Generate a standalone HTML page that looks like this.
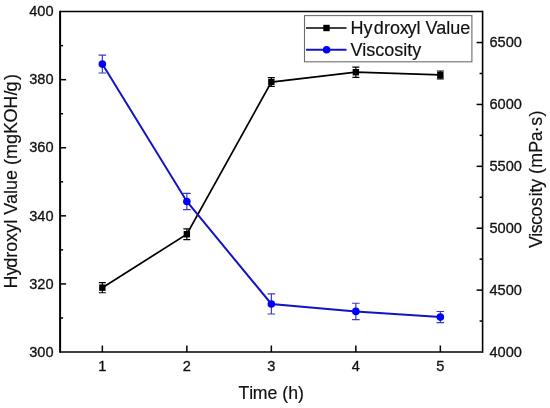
<!DOCTYPE html>
<html><head><meta charset="utf-8"><style>
html,body{margin:0;padding:0;background:#fff;}
svg{display:block;font-family:"Liberation Sans",sans-serif;}
text{fill:#111;stroke:#111;stroke-width:0.18px;}
.tk{stroke:#111;stroke-width:0.3px;}
</style></head><body>
<svg width="550" height="408" viewBox="0 0 550 408">
<defs><filter id="g" filterUnits="userSpaceOnUse" x="0" y="0" width="550" height="408"><feColorMatrix type="saturate" values="0"/></filter></defs>
<path d="M60.1,11.6H482.6" stroke="#000" stroke-width="1.5" fill="none"/>
<path d="M60.1,352.0H482.6" stroke="#000" stroke-width="1.6" fill="none"/>
<path d="M60.1,10.85V352.8" stroke="#000" stroke-width="2" fill="none"/>
<path d="M482.6,10.85V352.8" stroke="#000" stroke-width="1.6" fill="none"/>
<path d="M60.1,317.96h3" stroke="#000" stroke-width="1.5"/>
<path d="M60.1,283.92h6" stroke="#000" stroke-width="1.5"/>
<path d="M60.1,249.88h3" stroke="#000" stroke-width="1.5"/>
<path d="M60.1,215.84h6" stroke="#000" stroke-width="1.5"/>
<path d="M60.1,181.80h3" stroke="#000" stroke-width="1.5"/>
<path d="M60.1,147.76h6" stroke="#000" stroke-width="1.5"/>
<path d="M60.1,113.72h3" stroke="#000" stroke-width="1.5"/>
<path d="M60.1,79.68h6" stroke="#000" stroke-width="1.5"/>
<path d="M60.1,45.64h3" stroke="#000" stroke-width="1.5"/>
<path d="M482.6,321.05h-3" stroke="#000" stroke-width="1.5"/>
<path d="M482.6,290.11h-6" stroke="#000" stroke-width="1.5"/>
<path d="M482.6,259.16h-3" stroke="#000" stroke-width="1.5"/>
<path d="M482.6,228.22h-6" stroke="#000" stroke-width="1.5"/>
<path d="M482.6,197.27h-3" stroke="#000" stroke-width="1.5"/>
<path d="M482.6,166.33h-6" stroke="#000" stroke-width="1.5"/>
<path d="M482.6,135.38h-3" stroke="#000" stroke-width="1.5"/>
<path d="M482.6,104.44h-6" stroke="#000" stroke-width="1.5"/>
<path d="M482.6,73.49h-3" stroke="#000" stroke-width="1.5"/>
<path d="M482.6,42.55h-6" stroke="#000" stroke-width="1.5"/>
<path d="M102.35,352.0v-6.5" stroke="#000" stroke-width="1.5"/>
<path d="M186.85,352.0v-6.5" stroke="#000" stroke-width="1.5"/>
<path d="M271.35,352.0v-6.5" stroke="#000" stroke-width="1.5"/>
<path d="M355.85,352.0v-6.5" stroke="#000" stroke-width="1.5"/>
<path d="M440.35,352.0v-6.5" stroke="#000" stroke-width="1.5"/>
<polyline points="102.35,287.66 186.85,234.22 271.35,82.06 355.85,72.19 440.35,74.91" fill="none" stroke="#000" stroke-width="1.7"/>
<path d="M102.35,282.56V292.77M98.85,282.56h7M98.85,292.77h7" stroke="#000" stroke-width="1.2" fill="none"/>
<rect x="99.15" y="284.46" width="6.4" height="6.4" fill="#000"/>
<path d="M186.85,228.78V239.67M183.35,228.78h7M183.35,239.67h7" stroke="#000" stroke-width="1.2" fill="none"/>
<rect x="183.65" y="231.02" width="6.4" height="6.4" fill="#000"/>
<path d="M271.35,77.64V86.49M267.85,77.64h7M267.85,86.49h7" stroke="#000" stroke-width="1.2" fill="none"/>
<rect x="268.15" y="78.86" width="6.4" height="6.4" fill="#000"/>
<path d="M355.85,67.09V77.30M352.35,67.09h7M352.35,77.30h7" stroke="#000" stroke-width="1.2" fill="none"/>
<rect x="352.65" y="68.99" width="6.4" height="6.4" fill="#000"/>
<path d="M440.35,71.00V78.83M436.85,71.00h7M436.85,78.83h7" stroke="#000" stroke-width="1.2" fill="none"/>
<rect x="437.15" y="71.71" width="6.4" height="6.4" fill="#000"/>
<polyline points="102.35,64.08 186.85,201.48 271.35,303.97 355.85,311.40 440.35,317.09" fill="none" stroke="#1414c0" stroke-width="2"/>
<path d="M102.35,55.17V73.00M98.55,55.17h7.6M98.55,73.00h7.6" stroke="#3838d0" stroke-width="1.2" fill="none"/>
<circle cx="102.35" cy="64.08" r="3.8" fill="#0000ff"/>
<path d="M186.85,193.31V209.65M183.05,193.31h7.6M183.05,209.65h7.6" stroke="#3838d0" stroke-width="1.2" fill="none"/>
<circle cx="186.85" cy="201.48" r="3.8" fill="#0000ff"/>
<path d="M271.35,293.95V314.00M267.55,293.95h7.6M267.55,314.00h7.6" stroke="#3838d0" stroke-width="1.2" fill="none"/>
<circle cx="271.35" cy="303.97" r="3.8" fill="#0000ff"/>
<path d="M355.85,303.23V319.57M352.05,303.23h7.6M352.05,319.57h7.6" stroke="#3838d0" stroke-width="1.2" fill="none"/>
<circle cx="355.85" cy="311.40" r="3.8" fill="#0000ff"/>
<path d="M440.35,311.52V322.66M436.55,311.52h7.6M436.55,322.66h7.6" stroke="#3838d0" stroke-width="1.2" fill="none"/>
<circle cx="440.35" cy="317.09" r="3.8" fill="#0000ff"/>
<rect x="304.5" y="15.6" width="167.4" height="46.2" fill="#fff" stroke="#6c6c6c" stroke-width="1.1"/>
<path d="M306,28h40.5" stroke="#000" stroke-width="1.7"/>
<rect x="323.3" y="24.8" width="6.4" height="6.4" fill="#000"/>
<path d="M306,49.8h40.5" stroke="#1414c0" stroke-width="2"/>
<circle cx="326.6" cy="49.8" r="3.8" fill="#0000ff"/>
<g filter="url(#g)">
<text transform="translate(53.60,356.70) scale(1,1.06)" class="tk" text-anchor="end" font-size="14.6">300</text>
<text transform="translate(53.60,288.62) scale(1,1.06)" class="tk" text-anchor="end" font-size="14.6">320</text>
<text transform="translate(53.60,220.54) scale(1,1.06)" class="tk" text-anchor="end" font-size="14.6">340</text>
<text transform="translate(53.60,152.46) scale(1,1.06)" class="tk" text-anchor="end" font-size="14.6">360</text>
<text transform="translate(53.60,84.38) scale(1,1.06)" class="tk" text-anchor="end" font-size="14.6">380</text>
<text transform="translate(53.60,16.30) scale(1,1.06)" class="tk" text-anchor="end" font-size="14.6">400</text>
<text transform="translate(489.40,356.70) scale(1,1.06)" class="tk" text-anchor="start" font-size="14.6">4000</text>
<text transform="translate(489.40,294.81) scale(1,1.06)" class="tk" text-anchor="start" font-size="14.6">4500</text>
<text transform="translate(489.40,232.92) scale(1,1.06)" class="tk" text-anchor="start" font-size="14.6">5000</text>
<text transform="translate(489.40,171.03) scale(1,1.06)" class="tk" text-anchor="start" font-size="14.6">5500</text>
<text transform="translate(489.40,109.14) scale(1,1.06)" class="tk" text-anchor="start" font-size="14.6">6000</text>
<text transform="translate(489.40,47.25) scale(1,1.06)" class="tk" text-anchor="start" font-size="14.6">6500</text>
<text transform="translate(102.35,370.60) scale(1,1.06)" class="tk" text-anchor="middle" font-size="14.6">1</text>
<text transform="translate(186.85,370.60) scale(1,1.06)" class="tk" text-anchor="middle" font-size="14.6">2</text>
<text transform="translate(271.35,370.60) scale(1,1.06)" class="tk" text-anchor="middle" font-size="14.6">3</text>
<text transform="translate(355.85,370.60) scale(1,1.06)" class="tk" text-anchor="middle" font-size="14.6">4</text>
<text transform="translate(440.35,370.60) scale(1,1.06)" class="tk" text-anchor="middle" font-size="14.6">5</text>
<text x="271.35" y="398.5" text-anchor="middle" font-size="17.7" dx="-0.1 0.45 -0.35">Time (h)</text>
<text transform="translate(17.3,288.62) rotate(-90)" text-anchor="start" font-size="18" dx="0 0 -1.1 0 0 0 0 0 0 0 0 0 0 0 0 0 0 0 0 -0.6 -0.3 0.2 -1.0 1.6">Hydroxyl Value (mgKOH/g)</text>
<text transform="translate(542.0,247.97) rotate(-90)" text-anchor="start" font-size="17.8" dx="0 -0.3 -0.4 -0.8 -0.2 0.2 1.2 -0.2 -0.2 0 -0.2 0.4 0.1 -0.3 -0.8 0.5 0.3">Viscosity (mPa·s)</text>
<text x="350.5" y="34.1" font-size="18" dx="0 0 1.3 0.3 0 -0.5 -1.1">Hydroxyl Value</text>
<text x="350.5" y="55.8" font-size="18">Viscosity</text>
</g>
</svg>
</body></html>
